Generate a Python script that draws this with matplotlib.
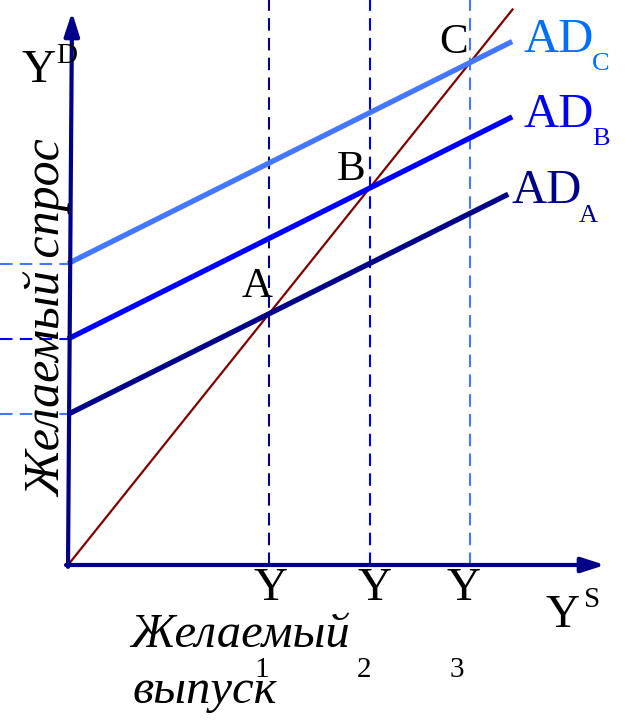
import matplotlib
matplotlib.use('Agg')
import matplotlib.pyplot as plt

# equilibrium output levels Y1, Y2, Y3 (45-degree line y = x)
output_levels = [2.0, 3.0, 4.0]
output_labels = ['1', '2', '3']
# planned expenditure lines AD = a + b*Y
ad_names = ['A', 'B', 'C']
ad_intercepts = [1.2, 1.8, 2.4]
ad_slope = 0.4
ad_ends = [4.38, 4.42, 4.42]
line45_end = 4.43

navy = '#000088'
blue = '#0000F5'
light = '#4477FF'
ad_colors = [navy, blue, light]
text_colors = [navy, blue, '#0070F8']
dash_h_colors = [light, blue, light]
dash_v_colors = [navy, blue, light]
serif = 'Liberation Serif'

W, H = 625, 721
X0, Y0, SX, SY = 68, 565, 100.5, 125.6

fig = plt.figure(figsize=(W / 100, H / 100), dpi=100)
ax = fig.add_axes([0, 0, 1, 1])
ax.set_xlim(-X0 / SX, (W - X0) / SX)
ax.set_ylim((Y0 - H) / SY, Y0 / SY)
ax.axis('off')

top = Y0 / SY

# dashed guide lines
for x, c in zip(output_levels, dash_v_colors):
    l, = ax.plot([x, x], [0, top], color=c, lw=1.5)
    l.set_dashes((6, 3.5))
for a, c in zip(ad_intercepts, dash_h_colors):
    l, = ax.plot([-X0 / SX, 0], [a, a], color=c, lw=1.5)
    l.set_dashes((6, 3.5))

# 45 degree line
ax.plot([0, line45_end], [0, line45_end], color='#800000', lw=1.6, solid_capstyle='butt')

# AD lines
for a, e, c in zip(ad_intercepts, ad_ends, ad_colors):
    ax.plot([0, e], [a, a + ad_slope * e], color=c, lw=3.8, solid_capstyle='butt')

# axes with arrows
ax.annotate('', xy=(0.04, (Y0 - 12) / SY), xytext=(0, -0.015),
            arrowprops=dict(arrowstyle='-|>,head_length=1.4,head_width=0.45',
                            color=navy, lw=3, shrinkA=0, shrinkB=0))
ax.annotate('', xy=((605 - X0) / SX, 0), xytext=(-0.02, 0),
            arrowprops=dict(arrowstyle='-|>,head_length=1.4,head_width=0.45',
                            color=navy, lw=3, shrinkA=0, shrinkB=0))


def put(xp, yp, s, size, **kw):
    kw.setdefault('family', serif)
    kw.setdefault('va', 'baseline')
    fig.text(xp / W, 1 - yp / H, s, fontsize=size, **kw)


# axis names
put(21, 82, 'Y', 34)
put(56, 63, 'D', 21)
put(545, 627, 'Y', 34)
put(584, 607, 'S', 21)
put(48, 318, 'Желаемый спрос', 36, style='italic', rotation=90,
    ha='center', va='center')
put(130, 647, 'Желаемый', 35, style='italic')
put(133, 703, 'выпуск', 35, style='italic')

# output level labels (small nudges as in the original drawing)
y_nudge = [2, 5, -6]
sub_nudge = [-7, -6, -13]
for x, lab, dy, ds in zip(output_levels, output_labels, y_nudge, sub_nudge):
    xp = X0 + SX * x
    put(xp + dy, 600, 'Y', 34, ha='center')
    put(xp + ds, 677, lab, 21, ha='center')

# equilibrium points labels
pt_nudge = [(-12, -17), (-18, -8), (-16, -10)]
for x, n, (dx, dy) in zip(output_levels, ad_names, pt_nudge):
    xp = X0 + SX * x
    yp = Y0 - SY * x
    put(xp + dx, yp + dy, n, 31, ha='center')

# AD labels
ad_lab_pos = [(512, 203, 579, 222), (523, 127, 592, 145), (523, 52, 592, 70)]
for n, c, (x1, y1, x2, y2) in zip(ad_names, text_colors, ad_lab_pos):
    put(x1, y1, 'AD', 35, color=c)
    put(x2, y2, n, 19, color=c)

fig.savefig('out.png', dpi=100)
